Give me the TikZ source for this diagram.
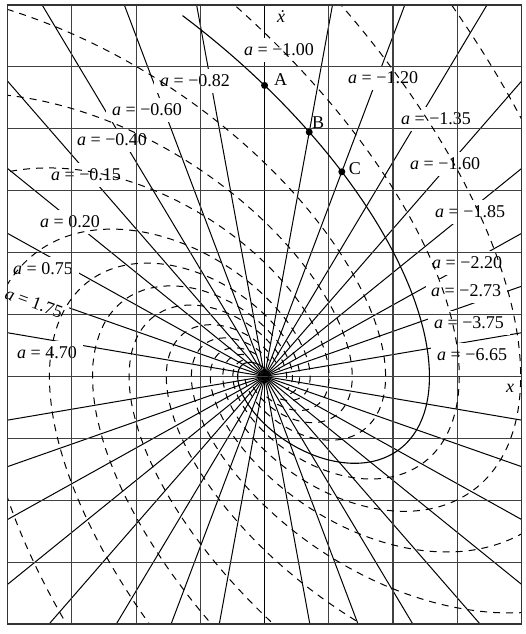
\documentclass[tikz,border=0pt]{standalone}
\usepackage{fontspec}
\setmainfont{Liberation Serif}
\pgfdeclarelayer{back}
\pgfsetlayers{back,main}
\begin{document}
\begin{tikzpicture}[x=64.2pt,y=61.9pt,
  gridline/.style={line width=1.1pt, black!75},
  iso/.style={line width=1pt},
  framebox/.style={line width=1.4pt, black!80},
  traj/.style={line width=1.1pt},
  dtraj/.style={line width=1pt, dash pattern=on 7pt off 6pt},
  lbl/.style={font=\fontsize{18}{18}\selectfont, inner sep=1.5pt},
  ptdot/.style={circle, fill, inner sep=0pt, minimum size=7pt}]
\useasboundingbox (-4.12,-4.16) rectangle (4.07,6.08);

% labels of the isoclines
\node[lbl] (l1)  at (0.226,5.273)  {\textit{a} = −1.00};
\node[lbl] (l2)  at (-1.083,4.775) {\textit{a} = −0.82};
\node[lbl] (l3)  at (-1.830,4.304) {\textit{a} = −0.60};
\node[lbl] (l4)  at (-2.375,3.819) {\textit{a} = −0.40};
\node[lbl] (l5)  at (-2.780,3.254) {\textit{a} = −0.15};
\node[lbl] (l6)  at (-3.030,2.494) {\textit{a} = 0.20};
\node[lbl] (l7)  at (-3.450,1.735) {\textit{a} = 0.75};
\node[lbl, rotate=-20] (l8) at (-3.591,1.190) {\textit{a} = 1.75};
\node[lbl] (l9)  at (-3.388,0.378) {\textit{a} = 4.70};
\node[lbl] (l10) at (1.846,4.821)  {\textit{a} = −1.20};
\node[lbl] (l11) at (2.671,4.158)  {\textit{a} = −1.35};
\node[lbl] (l12) at (2.812,3.431)  {\textit{a} = −1.60};
\node[lbl] (l13) at (3.201,2.656)  {\textit{a} = −1.85};
\node[lbl] (l14) at (3.154,1.832)  {\textit{a} = −2.20};
\node[lbl] (l15) at (3.139,1.380)  {\textit{a} = −2.73};
\node[lbl] (l16) at (3.185,0.863)  {\textit{a} = −3.75};
\node[lbl] (l17) at (3.232,0.346)  {\textit{a} = −6.65};
\node[lbl] (xdot) at (0.257,5.806) {\itshape x\llap{\char"02D9\kern0.03em}};
\node[lbl] (xlab) at (3.824,-0.187) {\itshape x};

% isoclines (on the back layer), broken where a label lies
\begin{pgfonlayer}{back}
\begin{scope}
\clip (-4,-4) rectangle (4,6);
\foreach \ang in {10,20,...,170} \draw[iso] (\ang:15) -- (\ang+180:15);
\foreach \n in {l1,l2,l3,l4,l5,l6,l7,l8,l9,l10,l11,l12,l13,l14,l15,l16,l17}
  \fill[white] ([shift={(-4pt,-4pt)}]\n.south west) -- ([shift={(-4pt,4pt)}]\n.north west)
     -- ([shift={(4pt,4pt)}]\n.north east) -- ([shift={(4pt,-4pt)}]\n.south east) -- cycle;
\end{scope}
\end{pgfonlayer}

% grid
\foreach \gx in {-3,-2,-1,1,2,3} \draw[gridline] (\gx,-4) -- (\gx,6);
\foreach \gy in {-3,...,5} \draw[gridline] (-4,\gy) -- (4,\gy);

% dashed trajectories
\begin{scope}
\clip (-4,-4) rectangle (4,6);
\foreach \V in {1.0,1.3,1.84,2.5,3.45,5.55,7.3,9.5,12.8,17.2,23.7,30.1}{
  \pgfmathsetmacro\tmin{2*ln(\V/14)}
  \pgfmathsetmacro\tmax{2*ln(\V/0.3)}
  \draw[dtraj] plot[domain=\tmin:\tmax, samples=180, smooth, variable=\t]
   ({\V*exp(-0.5*(\t))*sin(0.86603*(\t) r)/0.86603},
    {\V*exp(-0.5*(\t))*(cos(0.86603*(\t) r)-0.57735*sin(0.86603*(\t) r))});
}
\end{scope}

% solid trajectory
\draw[traj] plot[domain=-0.2425:9, samples=400, smooth, variable=\t]
   ({4.7*exp(-0.5*(\t))*sin(0.86603*(\t) r)/0.86603},
    {4.7*exp(-0.5*(\t))*(cos(0.86603*(\t) r)-0.57735*sin(0.86603*(\t) r))});

% frame
\draw[framebox] (-4,-4) rectangle (4,6);

% points A, B, C
\node[ptdot] (A) at (0,4.7) {};
\node[ptdot] (B) at (0.6957,3.9466) {};
\node[ptdot] (C) at (1.2030,3.3055) {};
\node[lbl] (Al) at ([shift={(16pt,6pt)}]A) {A};
\node[lbl] (Bl) at ([shift={(9pt,9pt)}]B) {B};
\node[lbl] (Cl) at ([shift={(13pt,3pt)}]C) {C};
\end{tikzpicture}
\end{document}
